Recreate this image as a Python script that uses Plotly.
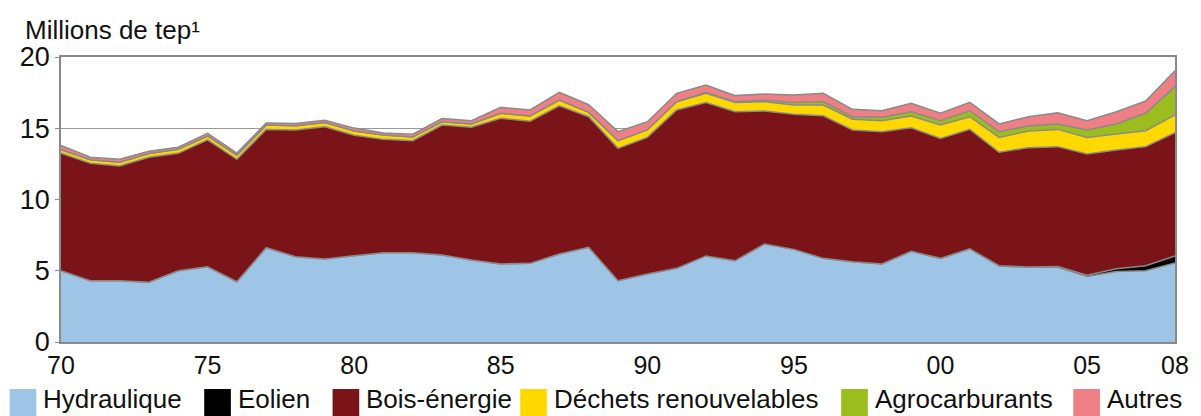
import plotly.graph_objects as go

years = list(range(1970, 2009))

hydraulique = [5.0, 4.3, 4.3, 4.2, 5.0, 5.28, 4.23, 6.62, 5.99, 5.82,
               6.06, 6.27, 6.27, 6.1, 5.75, 5.47, 5.52, 6.18, 6.64, 4.3,
               4.77, 5.17, 6.04, 5.71, 6.88, 6.5, 5.87, 5.64, 5.47, 6.36,
               5.87, 6.53, 5.33, 5.24, 5.24, 4.6, 4.95, 5.0, 5.55]
eolien = [0, 0, 0, 0, 0, 0, 0, 0, 0, 0,
          0, 0, 0, 0, 0, 0, 0, 0, 0, 0,
          0, 0, 0, 0, 0, 0, 0, 0, 0, 0,
          0, 0.01, 0.02, 0.03, 0.05, 0.09, 0.19, 0.35, 0.48]
bois = [8.24, 8.24, 8.05, 8.76, 8.24, 8.9, 8.59, 8.3, 8.89, 9.29,
        8.45, 7.95, 7.86, 9.13, 9.32, 10.23, 9.98, 10.4, 9.17, 9.29,
        9.59, 11.11, 10.76, 10.45, 9.33, 9.48, 10.01, 9.24, 9.29, 8.68,
        8.42, 8.38, 7.96, 8.37, 8.42, 8.5, 8.33, 8.36, 8.66]
dechets = [0.25, 0.25, 0.26, 0.27, 0.28, 0.28, 0.29, 0.3, 0.3, 0.3,
           0.3, 0.3, 0.25, 0.22, 0.23, 0.35, 0.36, 0.4, 0.3, 0.54,
           0.52, 0.58, 0.65, 0.64, 0.65, 0.65, 0.75, 0.75, 0.77, 0.82,
           0.94, 0.89, 1.05, 1.17, 1.21, 1.17, 1.13, 1.12, 1.24]
agro = [0, 0, 0, 0, 0, 0, 0, 0, 0, 0,
        0, 0, 0, 0, 0, 0, 0, 0, 0, 0,
        0, 0, 0.05, 0.07, 0.1, 0.17, 0.23, 0.18, 0.24, 0.3,
        0.3, 0.42, 0.4, 0.35, 0.38, 0.52, 0.7, 1.22, 1.99]
autres = [0.3, 0.17, 0.21, 0.15, 0.15, 0.18, 0.15, 0.15, 0.15, 0.15,
          0.2, 0.15, 0.2, 0.23, 0.23, 0.42, 0.42, 0.54, 0.54, 0.63,
          0.58, 0.59, 0.54, 0.42, 0.44, 0.53, 0.59, 0.52, 0.46, 0.59,
          0.52, 0.59, 0.54, 0.65, 0.79, 0.65, 0.86, 0.86, 1.12]

series_names = ["Hydraulique", "Eolien", "Bois-énergie",
                "Déchets renouvelables", "Agrocarburants", "Autres"]
series_values = [hydraulique, eolien, bois, dechets, agro, autres]
series_colors = ["#9FC5E6", "#000000", "#7B1418", "#FFD800", "#9BBE1E", "#EE7F84"]

tick_years = [1970, 1975, 1980, 1985, 1990, 1995, 2000, 2005, 2008]
tick_labels = ["70", "75", "80", "85", "90", "95", "00", "05", "08"]
y_ticks = [0, 5, 10, 15, 20]

FONT = "Liberation Sans, Arial, sans-serif"
GREY = "#8A8A8A"
TXT = "#111111"

fig = go.Figure()
for name, vals, col in zip(series_names, series_values, series_colors):
    fig.add_trace(go.Scatter(
        x=years, y=vals, name=name, mode="lines",
        stackgroup="one", fillcolor=col,
        line=dict(color=GREY, width=1.5),
        showlegend=False, hoverinfo="x+y+name",
    ))

# The page body has an 8px margin, so the figure is drawn 8px in from the
# window's top-left corner; the layout below is sized for that.
OFF = 8
W, H = 1201 - OFF, 416 - OFF
L, R, T, B = 61 - OFF, 12, 57 - OFF, 74
pw, ph = W - L - R, H - T - B


def px_x(px):
    # px: reference-window pixel
    return (px - OFF - L) / pw


def px_y(py):
    return (H - B - (py - OFF)) / ph


shapes = []
annotations = []
legend_text_x = [42, 239, 369, 559, 884, 1119]
for name, col, tx in zip(series_names, series_colors, legend_text_x):
    shapes.append(dict(type="rect", xref="paper", yref="paper",
                       x0=px_x(tx - 33), x1=px_x(tx - 6),
                       y0=px_y(416), y1=px_y(389),
                       fillcolor=col, line=dict(width=0)))
    annotations.append(dict(xref="paper", yref="paper", x=px_x(tx - 1), y=px_y(399),
                            xanchor="left", yanchor="middle", text=name,
                            showarrow=False, font=dict(family=FONT, size=26, color=TXT)))

annotations.append(dict(xref="paper", yref="paper", x=px_x(23), y=px_y(30),
                        xanchor="left", yanchor="middle", text="Millions de tep¹",
                        showarrow=False, font=dict(family=FONT, size=26, color=TXT)))

fig.update_layout(
    width=W, height=H,
    margin=dict(l=L, r=R, t=T, b=B, pad=0),
    paper_bgcolor="white", plot_bgcolor="white",
    font=dict(family=FONT, size=26, color=TXT),
    shapes=shapes, annotations=annotations,
    xaxis=dict(range=[1970, 2008], tickvals=tick_years, ticktext=tick_labels,
               showgrid=False, zeroline=False, showline=True, linecolor=GREY,
               linewidth=1.5, mirror=True, ticks="", tickfont=dict(size=25),
               ticklabeloverflow="allow"),
    yaxis=dict(range=[0, 20], tickvals=y_ticks, showgrid=True, gridcolor="#999999",
               gridwidth=1, zeroline=False, showline=True, linecolor=GREY,
               linewidth=1.5, mirror=True, ticks="outside", ticklen=4,
               tickcolor=GREY, tickfont=dict(size=27)),
)

fig.write_html("out.html")
